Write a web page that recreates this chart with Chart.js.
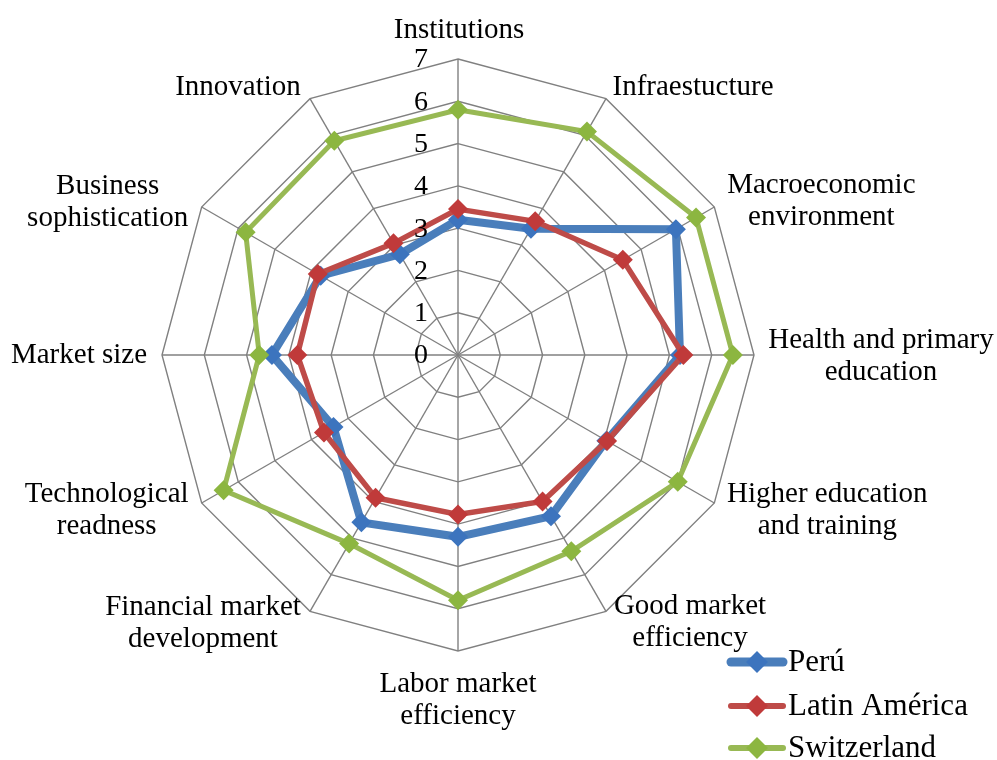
<!DOCTYPE html>
<html>
<head>
<meta charset="utf-8">
<script src="https://cdn.jsdelivr.net/npm/chart.js@4"></script>
<style>
  html, body { margin: 0; padding: 0; background: #fff; }
  #wrap { width: 997px; height: 760px; }
</style>
</head>
<body>
<div id="wrap"><canvas id="radar" width="997" height="760"></canvas></div>
<script>
// Data
const pillars = [
  ['Institutions'], ['Infraestucture'], ['Macroeconomic', 'environment'],
  ['Health and primary', 'education'], ['Higher education', 'and training'],
  ['Good market', 'efficiency'], ['Labor market', 'efficiency'],
  ['Financial market', 'development'], ['Technological', 'readness'],
  ['Market size'], ['Business', 'sophistication'], ['Innovation']
];
const peru        = [3.2, 3.45, 5.95, 5.25, 4.05, 4.4, 4.3, 4.57, 3.4, 4.4, 3.75, 2.75];
const latinAmerica = [3.45, 3.65, 4.5, 5.33, 4.07, 4.0, 3.77, 3.9, 3.66, 3.8, 3.83, 3.05];
const switzerland = [5.8, 6.1, 6.5, 6.5, 6.0, 5.36, 5.8, 5.15, 6.4, 4.7, 5.8, 5.85];
const tickValues  = [0, 1, 2, 3, 4, 5, 6, 7];
const seriesNames = ['Perú', 'Latin América', 'Switzerland'];

// label block offsets from each axis end (x, y)
const labelOffsets = [
  [1, -29], [87, -11], [107, -6], [127, 1], [113, 7], [84, 11],
  [0, 49], [-107, 12], [-95, 7], [-83, 0], [-94, -5], [-72, -11]
];

const SERIF = '"Liberation Serif", "Times New Roman", serif';

const textPlugin = {
  id: 'textPlugin',
  afterDraw(chart) {
    const ctx = chart.ctx;
    const scale = chart.scales.r;
    ctx.save();
    ctx.fillStyle = '#000';

    // tick labels, left of the vertical axis
    ctx.font = '28px ' + SERIF;
    ctx.textAlign = 'right';
    ctx.textBaseline = 'middle';
    tickValues.forEach(v => {
      const d = scale.getDistanceFromCenterForValue(v);
      ctx.fillText(String(v), scale.xCenter - 30, scale.yCenter - d + 1);
    });

    // axis labels
    ctx.font = '29px ' + SERIF;
    ctx.textAlign = 'center';
    pillars.forEach((lines, i) => {
      const p = scale.getPointPosition(i, scale.drawingArea);
      const cx = p.x + labelOffsets[i][0];
      const cy = p.y + labelOffsets[i][1];
      const lh = 32;
      const top = cy - (lines.length - 1) * lh / 2;
      lines.forEach((t, k) => ctx.fillText(t, cx, top + k * lh));
    });

    // legend
    ctx.font = '31px ' + SERIF;
    const rows = [662, 706, 748];
    chart.data.datasets.forEach((ds, i) => {
      const y = rows[i];
      ctx.strokeStyle = ds.borderColor;
      ctx.lineWidth = i === 0 ? 9 : 6;
      ctx.lineCap = 'round';
      ctx.beginPath();
      ctx.moveTo(731, y);
      ctx.lineTo(783, y);
      ctx.stroke();
      ctx.fillStyle = ds.pointBackgroundColor;
      ctx.beginPath();
      ctx.moveTo(757, y - 11);
      ctx.lineTo(768, y);
      ctx.lineTo(757, y + 11);
      ctx.lineTo(746, y);
      ctx.closePath();
      ctx.fill();
      ctx.fillStyle = '#000';
      ctx.textAlign = 'left';
      ctx.fillText(ds.label, 788, y + 1);
    });
    ctx.restore();
  }
};

function series(label, data, line, marker, width, order) {
  return {
    label, data, order,
    borderColor: line,
    borderWidth: width,
    backgroundColor: 'transparent',
    fill: false,
    pointStyle: 'rectRot',
    pointRadius: 10,
    pointBorderWidth: 0,
    pointBackgroundColor: marker,
    pointBorderColor: marker
  };
}

new Chart(document.getElementById('radar'), {
  type: 'radar',
  data: {
    labels: pillars,
    datasets: [
      series(seriesNames[0], peru, '#4A7EBB', '#3C74BE', 8, 2),
      series(seriesNames[1], latinAmerica, '#BE4B48', '#C03A3A', 5.5, 1),
      series(seriesNames[2], switzerland, '#98B954', '#8CB640', 5, 0)
    ]
  },
  options: {
    responsive: false,
    animation: false,
    layout: { padding: { top: 59, bottom: 109, left: 0, right: 81 } },
    elements: { line: { tension: 0 } },
    plugins: { legend: { display: false }, tooltip: { enabled: false } },
    scales: {
      r: {
        min: 0,
        max: 7,
        ticks: { stepSize: 1, display: false },
        pointLabels: { display: false },
        grid: { circular: false, color: '#808080', lineWidth: 1.4 },
        angleLines: { color: '#808080', lineWidth: 1.4 }
      }
    }
  },
  plugins: [textPlugin]
});
</script>
</body>
</html>
